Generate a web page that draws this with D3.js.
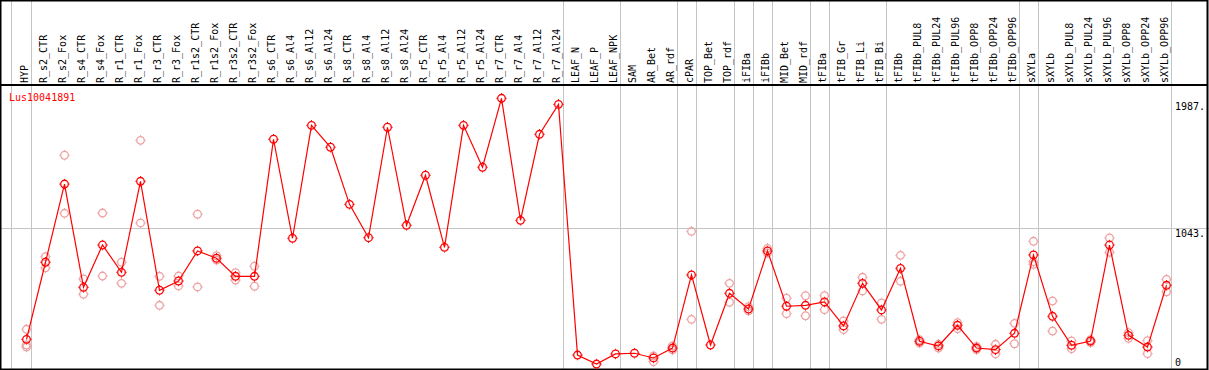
<!DOCTYPE html>
<html>
<head>
<meta charset="utf-8">
<script src="https://cdn.jsdelivr.net/npm/d3@7"></script>
<style>
  body { margin: 0; background: #fff; }
  text { font-family: "DejaVu Sans Mono", monospace; font-size: 10px; }
</style>
</head>
<body>
<script>
const geneName = "Lus10041891";

const categories = [
    "HYP", "R_s2_CTR", "R_s2_Fox", "R_s4_CTR", "R_s4_Fox", "R_r1_CTR", "R_r1_Fox",
    "R_r3_CTR", "R_r3_Fox", "R_r1s2_CTR", "R_r1s2_Fox", "R_r3s2_CTR", "R_r3s2_Fox",
    "R_s6_CTR", "R_s6_Al4", "R_s6_Al12", "R_s6_Al24", "R_s8_CTR", "R_s8_Al4",
    "R_s8_Al12", "R_s8_Al24", "R_r5_CTR", "R_r5_Al4", "R_r5_Al12", "R_r5_Al24",
    "R_r7_CTR", "R_r7_Al4", "R_r7_Al12", "R_r7_Al24", "LEAF_N", "LEAF_P", "LEAF_NPK",
    "SAM", "AR_Bet", "AR_rdf", "cPAR", "TOP_Bet", "TOP_rdf", "iFIBa", "iFIBb",
    "MID_Bet", "MID_rdf", "tFIBa", "tFIB_Gr", "tFIB_Li", "tFIB_Bi", "tFIBb",
    "tFIBb_PUL8", "tFIBb_PUL24", "tFIBb_PUL96", "tFIBb_OPP8", "tFIBb_OPP24", "tFIBb_OPP96",
    "sXYLa", "sXYLb", "sXYLb_PUL8", "sXYLb_PUL24", "sXYLb_PUL96", "sXYLb_OPP8",
    "sXYLb_OPP24", "sXYLb_OPP96"
];

// mean expression per sample
const means = [
    239, 798, 1365, 616, 923, 725, 1385,
    595, 662, 880, 827, 696, 696,
    1690, 972, 1791, 1632, 1218, 976,
    1777, 1066, 1429, 906, 1791, 1487,
    1987, 1102, 1726, 1943, 125, 60, 133,
    138, 104, 176, 706, 198, 573, 459, 880,
    479, 486, 510, 336, 645, 452, 754,
    225, 191, 341, 176, 164, 283,
    851, 406, 196, 227, 923, 268,
    183, 631
];

// individual replicates (empty where they sit on the mean)
const replicates = [
    [312, 198, 183], [838, 758], [1574, 1153], [677, 566], [1155, 698], [798, 645], [1682, 1083],
    [696, 486], [698, 626], [1146, 619], [846, 814], [722, 669], [769, 624],
    [], [], [], [], [], [],
    [], [], [], [], [], [],
    [], [], [], [], [], [], [],
    [], [118, 77], [191, 162], [1022, 384], [], [645, 508], [476, 445], [899, 865],
    [537, 425], [555, 410], [555, 454], [372, 309], [689, 590], [503, 384], [848, 660],
    [236, 212], [203, 176], [360, 316], [187, 165], [203, 133], [355, 207],
    [950, 802, 783], [517, 299], [227, 171], [236, 216], [974, 870], [287, 247],
    [229, 135], [674, 584]
];

// samples after which a grey separator is drawn
const groupEnds = ["HYP", "R_r7_Al24", "LEAF_NPK", "AR_rdf", "cPAR", "TOP_rdf", "iFIBa",
    "iFIBb", "MID_rdf", "tFIBa", "tFIB_Bi", "tFIBb_OPP96", "sXYLa", "sXYLb_OPP96"];

const yTicks = [1987, 1043, 0];

const width = 1209, height = 370;
const headerBottom = 85, plotBottom = 369;

const x = d3.scalePoint().domain(categories).range([26.5, 1166.5]);
const y = d3.scaleLinear().domain([0, 1987]).range([372.3, 98.3]);

const svg = d3.select("body")
    .append("svg")
    .attr("width", width)
    .attr("height", height);

// separators
const sepX = [x(categories[0]) - x.step() + 3.5].concat(groupEnds.map(c => x(c) + 4.5));
svg.append("g")
    .selectAll("line")
    .data(sepX)
    .enter().append("line")
    .attr("x1", d => Math.round(d) + 0.5)
    .attr("x2", d => Math.round(d) + 0.5)
    .attr("y1", 0)
    .attr("y2", plotBottom)
    .attr("stroke", "#c4c4c4")
    .attr("stroke-width", 1);

// mid line
svg.append("line")
    .attr("x1", 0).attr("x2", width)
    .attr("y1", Math.round(y(1043)) + 0.5)
    .attr("y2", Math.round(y(1043)) + 0.5)
    .attr("stroke", "#c4c4c4")
    .attr("stroke-width", 1);

// frame
svg.append("rect")
    .attr("x", 0.5).attr("y", 0.5)
    .attr("width", 1207).attr("height", plotBottom)
    .attr("fill", "none")
    .attr("stroke", "#000")
    .attr("stroke-width", 2);

svg.append("line")
    .attr("x1", 0).attr("x2", 1208)
    .attr("y1", headerBottom).attr("y2", headerBottom)
    .attr("stroke", "#000")
    .attr("stroke-width", 2);

// sample labels
svg.append("g")
    .selectAll("text")
    .data(categories)
    .enter().append("text")
    .attr("transform", d => "translate(" + (x(d) + 1.5) + "," + (headerBottom - 2) + ") rotate(-90)")
    .attr("fill", "#000")
    .text(d => d);

// gene label
svg.append("text")
    .attr("x", 9)
    .attr("y", 101)
    .attr("fill", "#ff0000")
    .text(geneName);

// right scale labels
svg.append("g")
    .selectAll("text")
    .data(yTicks)
    .enter().append("text")
    .attr("x", 1175)
    .attr("y", d => Math.min(Math.max(y(d) + 9, 110), 366))
    .attr("fill", "#000")
    .text(d => d === 0 ? "0" : d + ".");

function marker(g, cx, cy, color) {
    g.append("circle")
        .attr("cx", cx).attr("cy", cy).attr("r", 3.8)
        .attr("fill", "none")
        .attr("stroke", color)
        .attr("stroke-width", 1.3);
    g.append("path")
        .attr("d", "M" + cx + "," + (cy - 5.2) + "v1M" + cx + "," + (cy + 4.2) + "v1" +
            "M" + (cx - 5.2) + "," + cy + "h1M" + (cx + 4.2) + "," + cy + "h1")
        .attr("stroke", color)
        .attr("stroke-width", 1);
}

// replicates
const repG = svg.append("g");
replicates.forEach((reps, i) => {
    reps.forEach(v => marker(repG, x(categories[i]), y(v), "#eea0a0"));
});

// mean line
svg.append("path")
    .datum(means)
    .attr("fill", "none")
    .attr("stroke", "#ff0000")
    .attr("stroke-width", 1.2)
    .attr("d", d3.line().x((d, i) => x(categories[i])).y(d => y(d)));

const meanG = svg.append("g");
means.forEach((v, i) => marker(meanG, x(categories[i]), y(v), "#ff0000"));
</script>
</body>
</html>
